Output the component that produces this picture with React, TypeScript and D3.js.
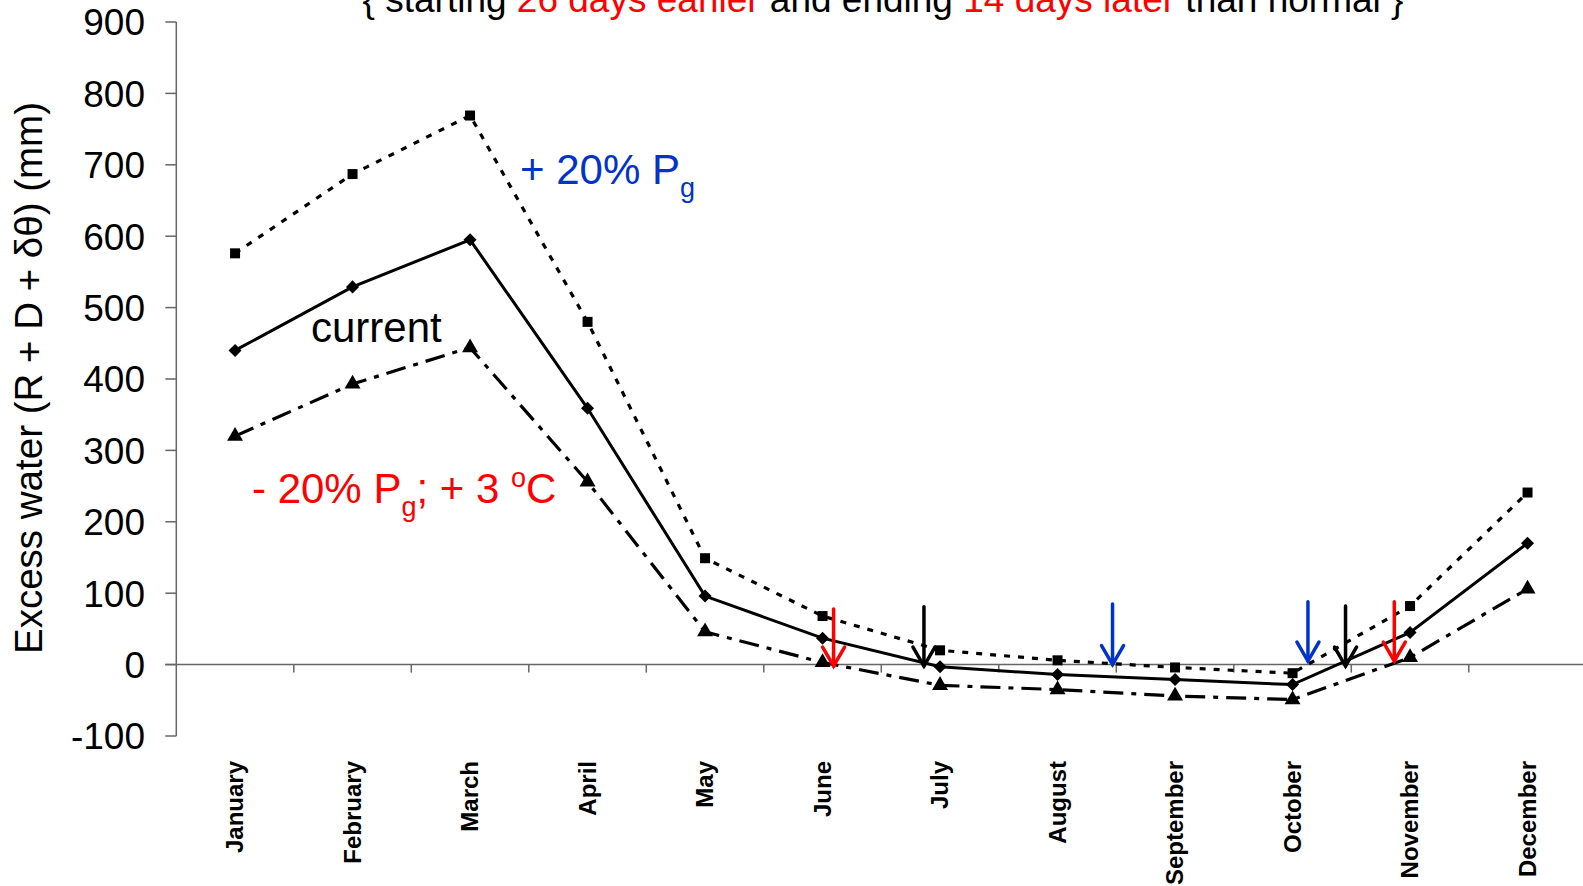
import React from "react";
import * as d3 from "d3";

const months = ["January","February","March","April","May","June","July","August","September","October","November","December"];
const current = [440, 529, 595, 359, 96, 37, -3, -14, -21, -28, 45, 170];
const plus20 = [576, 687, 769, 480, 149, 68, 20, 6, -4, -12, 82, 241];
const minus20 = [320, 393, 444, 256, 46, 3, -29, -35, -44, -49, 10, 106];
const yTicks = [-100, 0, 100, 200, 300, 400, 500, 600, 700, 800, 900];

// arrows: fractional month index, top value, tip value, colour
const arrowPos = [5.094, 5.863, 7.468, 9.131, 9.451, 9.866];
const arrowTop = [78, 81, 85, 88, 82, 88];
const arrowTip = [-2, -2, 0, 5, -2, 5];
const arrowColor = ["#ff0000", "#000000", "#0033cc", "#0033cc", "#000000", "#ff0000"];

const W = 1583, H = 886;
const FONT = "'Liberation Sans', Arial, sans-serif";

export default function App() {
  const x = d3.scaleBand<string>().domain(months).range([176.3, 176.3 + 12 * 117.5]).padding(0);
  const bw = x.bandwidth();
  const cx = (i: number) => (x(months[0]) as number) + bw * (i + 0.5);
  const y = d3.scaleLinear().domain([-100, 900]).range([736, 22]);
  const x0 = 176.3;
  const y0 = y(0);

  const line = d3.line<number>().x((_, i) => cx(i)).y((v) => y(v));

  const diamond = d3.symbol().type(d3.symbolSquare).size(85)();
  const square = d3.symbol().type(d3.symbolSquare).size(100)();
  const triangle = d3.symbol().type(d3.symbolTriangle).size(110)();

  return (
    <svg width={W} height={H} style={{ position: "absolute", left: 0, top: 0, background: "#fff" }} fontFamily={FONT}>
      {/* title (clipped at top) */}
      <text x={883} y={12} fontSize={37} textAnchor="middle" fill="#000">
        <tspan>{"{ starting "}</tspan>
        <tspan fill="#ff0000">26 days earlier</tspan>
        <tspan>{" and ending "}</tspan>
        <tspan fill="#ff0000">14 days later</tspan>
        <tspan>{" than normal }"}</tspan>
      </text>

      {/* y axis */}
      <line x1={x0} x2={x0} y1={y(900)} y2={y(-100)} stroke="#666" strokeWidth={1.5} />
      {yTicks.map((t) => (
        <g key={t}>
          <line x1={x0 - 11} x2={x0} y1={y(t)} y2={y(t)} stroke="#666" strokeWidth={1.5} />
          <text x={145} y={y(t)} dy="0.36em" fontSize={37} textAnchor="end" fill="#000">{t}</text>
        </g>
      ))}
      {/* zero line / x axis */}
      <line x1={x0 - 11} x2={W} y1={y0} y2={y0} stroke="#666" strokeWidth={1.5} />
      {months.map((m, i) => (
        <line key={m} x1={x0 + bw * (i + 1)} x2={x0 + bw * (i + 1)} y1={y0} y2={y0 + 8} stroke="#666" strokeWidth={1.5} />
      ))}

      {/* month labels */}
      {months.map((m, i) => (
        <text key={m} transform={`translate(${cx(i) + 8},761) rotate(-90)`} textAnchor="end" fontSize={24} fontWeight="bold" fill="#000">{m}</text>
      ))}

      {/* y title */}
      <text transform={`translate(42,378) rotate(-90)`} textAnchor="middle" fontSize={38.5} fill="#000">Excess water (R + D + δθ) (mm)</text>

      {/* series */}
      <path d={line(plus20) || ""} fill="none" stroke="#000" strokeWidth={3.2} strokeDasharray="6,8" />
      <path d={line(minus20) || ""} fill="none" stroke="#000" strokeWidth={3.2} strokeDasharray="20,8,5,8" />
      <path d={line(current) || ""} fill="none" stroke="#000" strokeWidth={3} />
      {plus20.map((v, i) => (
        <path key={"s" + i} d={square || ""} transform={`translate(${cx(i)},${y(v)})`} fill="#000" />
      ))}
      {minus20.map((v, i) => (
        <path key={"t" + i} d={triangle || ""} transform={`translate(${cx(i)},${y(v)})`} fill="#000" />
      ))}
      {current.map((v, i) => (
        <path key={"d" + i} d={diamond || ""} transform={`translate(${cx(i)},${y(v)}) rotate(45)`} fill="#000" />
      ))}

      {/* arrows */}
      {arrowPos.map((p, i) => {
        const ax = cx(p);
        const yt = y(arrowTop[i]);
        const yb = y(arrowTip[i]);
        return (
          <g key={"a" + i} stroke={arrowColor[i]} strokeWidth={3.5} fill="none" strokeLinecap="round">
            <line x1={ax} x2={ax} y1={yt} y2={yb} />
            <polyline points={`${ax - 11},${yb - 19} ${ax},${yb} ${ax + 11},${yb - 19}`} />
          </g>
        );
      })}

      {/* annotations */}
      <text x={520} y={184} fontSize={42} fill="#0033cc">
        + 20% P<tspan fontSize={27} dy={13}>g</tspan>
      </text>
      <text x={311} y={342} fontSize={42} fill="#000">current</text>
      <text x={252} y={503} fontSize={42} fill="#ff0000">
        - 20% P<tspan fontSize={27} dy={13}>g</tspan><tspan dy={-13}>; + 3 </tspan><tspan fontSize={27} dy={-16}>o</tspan><tspan dy={16}>C</tspan>
      </text>
    </svg>
  );
}
